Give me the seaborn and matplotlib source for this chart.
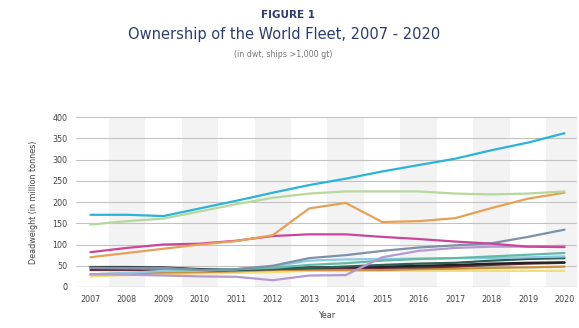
import numpy as np
import pandas as pd
import matplotlib
matplotlib.use("Agg")
import matplotlib.pyplot as plt
import seaborn as sns

years = list(range(2007, 2021))

# owner groups (values in million dwt)
cyan_series = [170, 170, 167, 185, 203, 222, 240, 255, 272, 287, 302, 322, 340, 362]
green_series = [147, 155, 161, 178, 195, 210, 220, 225, 225, 225, 220, 218, 220, 225]
orange_series = [70, 80, 90, 100, 108, 122, 185, 198, 153, 155, 162, 186, 208, 222]
magenta_series = [82, 92, 100, 102, 109, 120, 124, 124, 118, 113, 107, 102, 95, 94]
steel_series = [45, 45, 45, 40, 42, 50, 68, 75, 85, 93, 98, 103, 118, 135]
lavender_series = [30, 29, 27, 25, 24, 16, 27, 28, 70, 85, 92, 95, 95, 97]
teal_series = [45, 44, 43, 40, 42, 45, 52, 56, 62, 66, 68, 72, 76, 80]
lightblue_series = [30, 33, 38, 38, 42, 48, 62, 65, 66, 67, 68, 68, 70, 72]
darkgreen_series = [45, 45, 45, 40, 40, 42, 45, 48, 52, 55, 57, 62, 66, 68]
black_series = [47, 47, 46, 42, 42, 44, 46, 47, 48, 50, 52, 55, 57, 58]
maroon_series = [40, 40, 40, 38, 40, 42, 44, 45, 45, 46, 48, 52, 55, 57]
olive_series = [30, 32, 34, 35, 37, 40, 40, 40, 40, 42, 43, 45, 46, 48]
yellow_series = [25, 28, 30, 32, 33, 35, 38, 38, 38, 38, 38, 38, 38, 38]

series = {
    "yellow": yellow_series,
    "olive": olive_series,
    "maroon": maroon_series,
    "black": black_series,
    "darkgreen": darkgreen_series,
    "lightblue": lightblue_series,
    "teal": teal_series,
    "lavender": lavender_series,
    "steel": steel_series,
    "magenta": magenta_series,
    "orange": orange_series,
    "green": green_series,
    "cyan": cyan_series,
}
colors = {
    "yellow": "#f0df7c",
    "olive": "#c9913f",
    "maroon": "#6b2c3c",
    "black": "#222222",
    "darkgreen": "#2f5f55",
    "lightblue": "#8ccbe3",
    "teal": "#62b9a6",
    "lavender": "#b59ad0",
    "steel": "#7f90a8",
    "magenta": "#c8479b",
    "orange": "#e6a157",
    "green": "#b6d89c",
    "cyan": "#2bb3d8",
}

rows = []
for name, vals in series.items():
    for y, v in zip(years, vals):
        rows.append({"Year": y, "dwt": v, "group": name})
df = pd.DataFrame(rows)

sns.set_style("white")
fig = plt.figure(figsize=(5.79, 3.28), dpi=100)
ax = fig.add_axes([0.131, 0.125, 0.866, 0.518])

# alternating shaded year bands
for y in years:
    if y % 2 == 0:
        ax.axvspan(y - 0.5, y + 0.5, color="#f3f3f3", zorder=0, lw=0)

for v in range(50, 401, 50):
    ax.axhline(v, color="#c2c2c2", lw=0.8, zorder=1)
ax.axhline(0, color="#9a9a9a", lw=0.9, zorder=1)

sns.lineplot(data=df, x="Year", y="dwt", hue="group", palette=colors,
             hue_order=list(series.keys()), legend=False, lw=1.6, ax=ax, zorder=3)

ax.set_xlim(2006.6, 2020.35)
ax.set_ylim(0, 400)
ax.set_xticks(years)
ax.set_xticklabels([str(y) for y in years])
ax.set_yticks(range(0, 401, 50))
for s in ax.spines.values():
    s.set_visible(False)
ax.tick_params(axis="both", length=0, labelsize=5.8, colors="#444444", pad=6)
ax.set_xlabel("Year", fontsize=5.8, color="#444444", labelpad=5)
ax.set_ylabel("Deadweight (in million tonnes)", fontsize=5.8, color="#444444", labelpad=10)

fig.text(0.497, 0.955, "FIGURE 1", ha="center", va="center", fontsize=7.5,
         fontweight="bold", color="#2c3d6b")
fig.text(0.49, 0.895, "Ownership of the World Fleet, 2007 - 2020", ha="center", va="center",
         fontsize=10.5, color="#2c3d6b")
fig.text(0.49, 0.835, "(in dwt, ships >1,000 gt)", ha="center", va="center",
         fontsize=5.8, color="#777777")

plt.savefig("out.png", dpi=100)
